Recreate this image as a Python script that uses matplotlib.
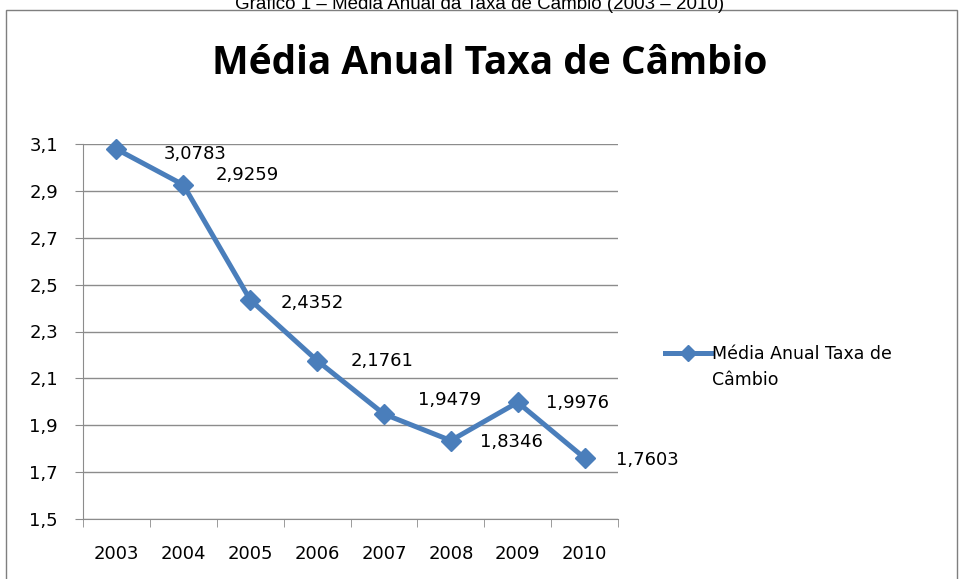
import matplotlib
matplotlib.use("Agg")
import matplotlib.pyplot as plt
from matplotlib.patches import Rectangle

anos = ["2003", "2004", "2005", "2006", "2007", "2008", "2009", "2010"]
taxa = [3.0783, 2.9259, 2.4352, 2.1761, 1.9479, 1.8346, 1.9976, 1.7603]
rotulos = ["3,0783", "2,9259", "2,4352", "2,1761", "1,9479", "1,8346", "1,9976", "1,7603"]
yticks = [1.5, 1.7, 1.9, 2.1, 2.3, 2.5, 2.7, 2.9, 3.1]

# label offsets in pixels (right, up) from each point
offsets = [(79, -5), (64, 10), (62, -3), (65, 0), (66, 14), (61, -1), (60, -1), (63, -2)]

azul = "#4A7EBB"
cinza = "#8C8C8C"
W, H = 959, 579

fig = plt.figure(figsize=(W / 100, H / 100), dpi=100)

# outer chart frame
fig.patches.append(Rectangle((6 / W, -0.05), 951 / W, 1.05 - 10 / H,
                             transform=fig.transFigure, fill=False,
                             edgecolor="#7F7F7F", linewidth=1.0))

fig.text(480 / W, 1 - 9 / H, "Gráfico 1 – Média Anual da Taxa de Câmbio (2003 – 2010)",
         ha="center", va="baseline", fontsize=13.5, family="Liberation Sans")
fig.text(490 / W, 1 - 63 / H, "Média Anual Taxa de Câmbio",
         ha="center", va="center", fontsize=28, fontweight="bold", family="Open Sans")

ax = fig.add_axes([83 / W, 1 - 519 / H, (618 - 83) / W, (519 - 144) / H])
x = list(range(len(anos)))
ax.plot(x, taxa, color=azul, linewidth=3.6, marker="D", markersize=10.5,
        markeredgecolor=azul, label="Média Anual Taxa de", clip_on=False)

for xi, yi, lab, (dx, dy) in zip(x, taxa, rotulos, offsets):
    ax.annotate(lab, (xi, yi), xytext=(dx * 0.72, dy * 0.72), textcoords="offset points",
                ha="center", va="center", fontsize=13)

ax.set_xlim(-0.5, len(anos) - 0.5)
ax.set_ylim(1.5, 3.1)
ax.set_yticks(yticks)
ax.set_yticklabels([f"{v:.1f}".replace(".", ",") for v in yticks], fontsize=13)
ax.set_xticks(x)
ax.set_xticklabels(anos, fontsize=13)
ax.set_xticks([i - 0.5 for i in range(len(anos) + 1)], minor=True)
ax.tick_params(axis="x", which="major", length=0, pad=19)
ax.tick_params(axis="x", which="minor", length=6, color=cinza, direction="out")
ax.tick_params(axis="y", length=6, color=cinza, direction="out", pad=12)
ax.grid(axis="y", color=cinza, linewidth=1.0)
ax.set_axisbelow(True)
for s in ["top", "right"]:
    ax.spines[s].set_visible(False)
for s in ["left", "bottom"]:
    ax.spines[s].set_color(cinza)

ax.legend(loc="center left", bbox_to_anchor=(649 / W, 1 - 354 / H),
          bbox_transform=fig.transFigure, frameon=False, fontsize=12.5,
          handlelength=2.7, handletextpad=0.05, markerscale=0.8)
fig.text(712 / W, 1 - 380 / H, "Câmbio", ha="left", va="center", fontsize=12.5)

fig.savefig("out.png", dpi=100)
